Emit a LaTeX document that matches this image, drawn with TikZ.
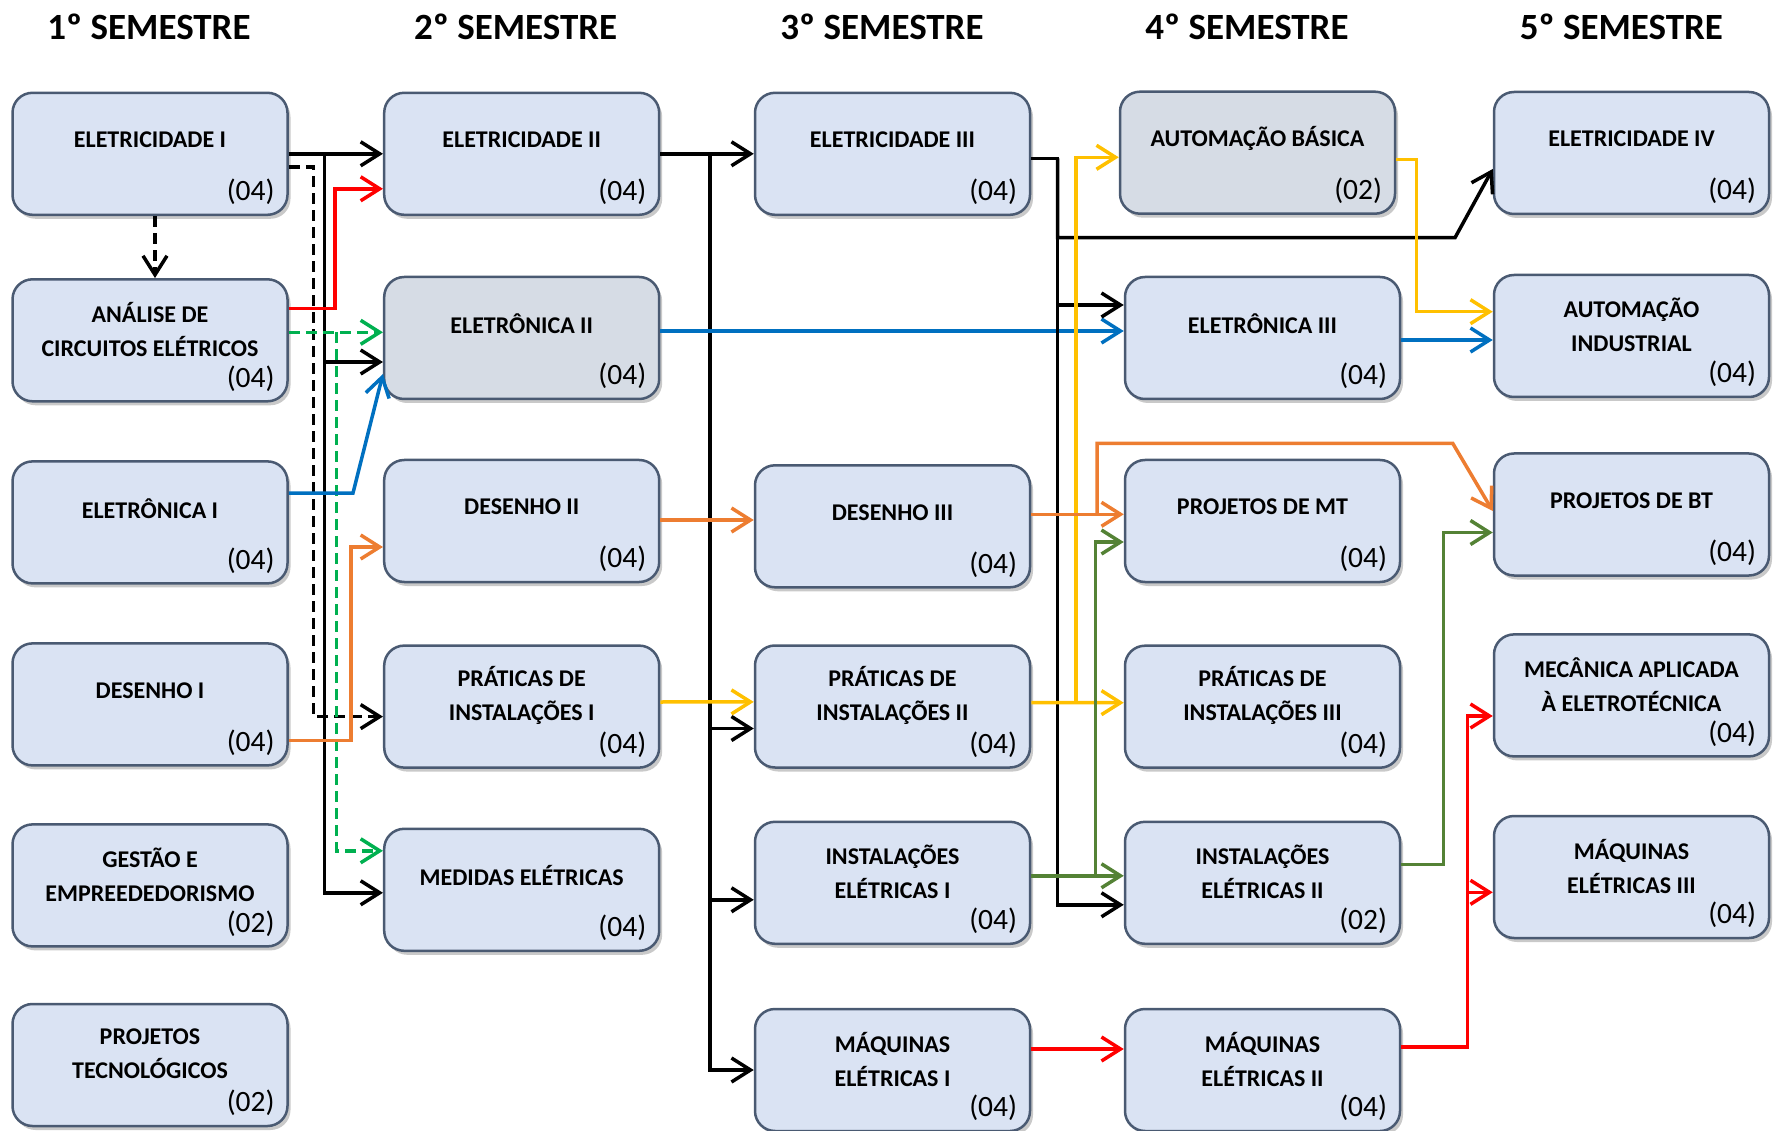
\documentclass[tikz,border=0pt]{standalone}
\usepackage{fontspec}
\setmainfont{Carlito}
\usetikzlibrary{arrows.meta,shadows}

\definecolor{caixa}{HTML}{DAE3F3}
\definecolor{caixacinza}{HTML}{D6DCE5}
\definecolor{borda}{HTML}{4A5A72}
\definecolor{vermelho}{HTML}{FF0000}
\definecolor{verdeclaro}{HTML}{00B050}
\definecolor{verde}{HTML}{548235}
\definecolor{azul}{HTML}{0070C0}
\definecolor{laranja}{HTML}{ED7D31}
\definecolor{amarelo}{HTML}{FFC000}

\tikzset{
  disciplina/.style={draw=borda, line width=2.5pt, rounded corners=20pt,
    minimum width=275pt, minimum height=122pt, inner sep=0pt,
    drop shadow={shadow xshift=3pt,shadow yshift=-4pt,opacity=.3,fill=black!70}},
  titulo/.style={font=\fontsize{24}{34}\selectfont\bfseries, align=center, inner sep=0pt},
  creditos/.style={font=\fontsize{29.5}{30}\selectfont, anchor=east, inner sep=0pt},
  semestre/.style={font=\fontsize{37}{40}\selectfont\bfseries, inner sep=0pt},
  liga/.style={line width=3.5pt, -{Straight Barb[length=19pt,width=24pt]}},
  tracejado/.style={dash pattern=on 11pt off 6pt},
}

\begin{document}
\begin{tikzpicture}[x=1pt,y=-1pt]
\useasboundingbox (0,0) rectangle (1773,1131);

% cabecalhos
\node[semestre] (sem1) at (149,27) {1º SEMESTRE};
\node[semestre] (sem2) at (515.6,27) {2º SEMESTRE};
\node[semestre] (sem3) at (882,27) {3º SEMESTRE};
\node[semestre] (sem4) at (1247,27) {4º SEMESTRE};
\node[semestre] (sem5) at (1621.4,27) {5º SEMESTRE};

% disciplinas
\foreach \n/\x/\y/\t/\c/\dy/\f in {
  eletI/150/153.8/{ELETRICIDADE I}/04/14/caixa,
  analise/150/340.3/{ANÁLISE DE\\CIRCUITOS ELÉTRICOS}/04/11/caixa,
  eletrI/150/522.4/{ELETRÔNICA I}/04/14/caixa,
  desI/150/704.4/{DESENHO I}/04/14/caixa,
  gestao/150/885.4/{GESTÃO E\\EMPREEDEDORISMO}/02/11/caixa,
  projTec/150/1065/{PROJETOS\\TECNOLÓGICOS}/02/11/caixa,
  eletII/521.7/153.8/{ELETRICIDADE II}/04/14/caixa,
  eletrII/521.7/338/{ELETRÔNICA II}/04/14/caixacinza,
  desII/521.7/521/{DESENHO II}/04/14/caixa,
  pratI/521.7/706.6/{PRÁTICAS DE\\INSTALAÇÕES I}/04/11/caixa,
  medidas/521.7/889.8/{MEDIDAS ELÉTRICAS}/04/14/caixa,
  eletIII/892.5/153.8/{ELETRICIDADE III}/04/14/caixa,
  desIII/892.5/526.3/{DESENHO III}/04/14/caixa,
  pratII/892.5/706.5/{PRÁTICAS DE\\INSTALAÇÕES II}/04/11/caixa,
  instI/892.5/882.8/{INSTALAÇÕES\\ELÉTRICAS I}/04/11/caixa,
  maqI/892.5/1070/{MÁQUINAS\\ELÉTRICAS I}/04/11/caixa,
  autB/1257.5/152.7/{AUTOMAÇÃO BÁSICA}/02/14/caixacinza,
  eletrIII/1262.5/338/{ELETRÔNICA III}/04/14/caixa,
  projMT/1262.5/521/{PROJETOS DE MT}/04/14/caixa,
  pratIII/1262.5/706.7/{PRÁTICAS DE\\INSTALAÇÕES III}/04/11/caixa,
  instII/1262.5/882.8/{INSTALAÇÕES\\ELÉTRICAS II}/02/11/caixa,
  maqII/1262.5/1070/{MÁQUINAS\\ELÉTRICAS II}/04/11/caixa,
  eletIV/1631.5/153/{ELETRICIDADE IV}/04/14/caixa,
  autI/1631.5/336/{AUTOMAÇÃO\\INDUSTRIAL}/04/11/caixa,
  projBT/1631.5/514.5/{PROJETOS DE BT}/04/14/caixa,
  mec/1631.5/695.4/{MECÂNICA APLICADA\\À ELETROTÉCNICA}/04/11/caixa,
  maqIII/1631.5/877/{MÁQUINAS\\ELÉTRICAS III}/04/11/caixa}{
    \node[disciplina,fill=\f] (\n) at (\x,\y) {};
    \node[titulo] (\n-t) at ([yshift=\dy pt]\n.center) {\t};
    \node[creditos] (\n-c) at ([xshift=-14pt,yshift=-38pt]\n.east) {(\c)};
}

% barramentos
\coordinate (b1) at (324.5,0);
\coordinate (b1d) at (313.5,0);
\coordinate (b1r) at (335,0);
\coordinate (b1g) at (336.5,0);
\coordinate (b1a) at (353,0);
\coordinate (b1l) at (351,0);
\coordinate (b2) at (710,0);
\coordinate (b3) at (1057.5,0);
\coordinate (b3y) at (1076,0);
\coordinate (b3l) at (1097,0);
\coordinate (b3g) at (1095.5,0);
\coordinate (b4) at (1455,237.7);
\coordinate (b4l) at (1452.7,443.3);
\coordinate (b4y) at (1416.7,0);
\coordinate (b4g) at (1443.3,0);
\coordinate (b4r) at (1467.3,0);

% 1o -> 2o
\draw[liga] (eletI) -- (eletII);
\draw[liga] (eletI.east -| b1) |- ([yshift=-24pt]eletrII.west);
\draw[liga] (eletI.east -| b1) |- ([yshift=-3pt]medidas.west);
\draw[liga,tracejado] ([yshift=-13pt]eletI.east) -| ([yshift=-10pt]b1d |- pratI.west) -- ([yshift=-10pt]pratI.west);
\draw[liga,tracejado] ([xshift=5pt]eletI.south) -- ([xshift=5pt]analise.north);
\draw[liga,vermelho] ([yshift=31.6pt]analise.east) -| ([yshift=-35pt]b1r |- eletII.west) -- ([yshift=-35pt]eletII.west);
\draw[liga,verdeclaro,tracejado] ([yshift=8pt]analise.east) -- ([yshift=8pt]analise.east -| eletrII.west);
\draw[liga,verdeclaro,tracejado] ([yshift=8pt]analise.east -| b1g) |- ([yshift=39pt]medidas.west);
\draw[liga,azul] ([yshift=29.4pt]eletrI.east) -- ([yshift=29.4pt]eletrI.east -| b1a) -- ([yshift=-36pt]eletrII.west);
\draw[liga,laranja] ([yshift=-36pt]desI.east) -| ([yshift=-26pt]b1l |- desII.west) -- ([yshift=-26pt]desII.west);

% 2o -> 3o
\draw[liga] (eletII) -- (eletIII);
\draw[liga] (eletII.east -| b2) |- ([yshift=-22pt]pratII.west);
\draw[liga] (eletII.east -| b2) |- ([yshift=-17pt]instI.west);
\draw[liga] (eletII.east -| b2) |- (maqI.west);
\draw[liga,azul] ([yshift=7pt]eletrII.east) -- ([yshift=7pt]eletrIII.west);
\draw[liga,laranja] ([yshift=1pt]desII.east) -- ([yshift=1pt]desII.east -| desIII.west);
\draw[liga,amarelo] ([yshift=4.6pt]pratI.east) -- ([yshift=4.6pt]pratII.west);

% 3o -> 4o
\draw[liga] ([yshift=-4.5pt]eletIII.east) -| ([yshift=-22pt]b3 |- instII.west) -- ([yshift=-22pt]instII.west);
\draw[liga] ([yshift=-4.5pt]eletIII.east -| b3) |- ([yshift=33pt]eletrIII.west);
\draw[liga] ([yshift=-4.5pt]eletIII.east -| b3) |- (b4) -- ([yshift=-16pt]eletIV.west);
\draw[liga,amarelo] ([yshift=4pt]pratII.east) -- ([yshift=4pt]pratIII.west);
\draw[liga,amarelo] ([yshift=4pt]pratII.east -| b3y) |- ([yshift=-4.6pt]autB.west);
\draw[liga,laranja] ([yshift=12pt]desIII.east) -- ([yshift=12pt]desIII.east -| projMT.west);
\draw[liga,laranja] ([yshift=12pt]desIII.east -| b3l) |- (b4l) -- ([yshift=3.5pt]projBT.west);
\draw[liga,verde] ([yshift=7pt]instI.east) -- ([yshift=7pt]instII.west);
\draw[liga,verde] ([yshift=7pt]instI.east -| b3g) |- ([yshift=-21pt]projMT.west);
\draw[liga,vermelho] ([yshift=21pt]maqI.east) -- ([yshift=21pt]maqII.west);

% 4o -> 5o
\draw[liga,vermelho] ([yshift=23pt]maqII.east) -| ([yshift=-20.6pt]b4r |- mec.west) -- ([yshift=-20.6pt]mec.west);
\draw[liga,vermelho] ([yshift=23pt]maqII.east -| b4r) |- ([yshift=-15.3pt]maqIII.west);
\draw[liga,verde] ([yshift=18.5pt]instII.east) -| ([yshift=-18pt]b4g |- projBT.west) -- ([yshift=-18pt]projBT.west);
\draw[liga,amarelo] ([yshift=-6.6pt]autB.east) -| ([yshift=24.3pt]b4y |- autI.west) -- ([yshift=24.3pt]autI.west);
\draw[liga,azul] ([yshift=-2pt]eletrIII.east) -- ([yshift=-2pt]eletrIII.east -| autI.west);
\end{tikzpicture}
\end{document}
